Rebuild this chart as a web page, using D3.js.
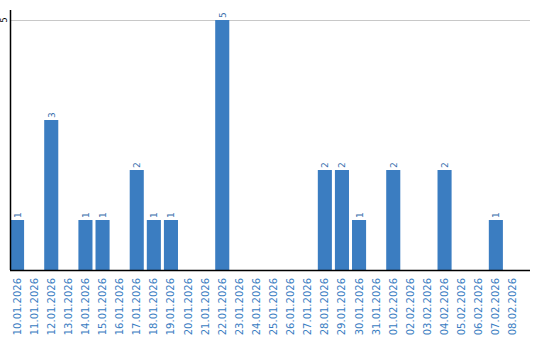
<!DOCTYPE html>
<html>
<head>
<meta charset="utf-8">
<script src="https://cdn.jsdelivr.net/npm/d3@7"></script>
<style>
  body { margin: 0; background: #fff; }
  svg text { font-family: "DejaVu Sans", Verdana, sans-serif; }
</style>
</head>
<body>
<script>
// 数据
const dates = [
    '10.01.2026', '11.01.2026', '12.01.2026', '13.01.2026', '14.01.2026',
    '15.01.2026', '16.01.2026', '17.01.2026', '18.01.2026', '19.01.2026',
    '20.01.2026', '21.01.2026', '22.01.2026', '23.01.2026', '24.01.2026',
    '25.01.2026', '26.01.2026', '27.01.2026', '28.01.2026', '29.01.2026',
    '30.01.2026', '31.01.2026', '01.02.2026', '02.02.2026', '03.02.2026',
    '04.02.2026', '05.02.2026', '06.02.2026', '07.02.2026', '08.02.2026'
];
const counts = [1, 0, 3, 0, 1, 1, 0, 2, 1, 1, 0, 0, 5, 0, 0, 0, 0, 0, 2, 2, 1, 0, 2, 0, 0, 2, 0, 0, 1, 0];
const yTicks = [5];

const width = 540, height = 340;
const mLeft = 10, mRight = 530, mTop = 10, mBottom = 270;
const barColor = '#3b7dc1';

const svg = d3.select('body').append('svg')
    .attr('width', width)
    .attr('height', height);

// 比例尺
const x = d3.scaleBand()
    .domain(dates)
    .range([mLeft, mLeft + 17 * dates.length])
    .paddingInner(3 / 17)
    .paddingOuter(0)
    .align(0);

const y = d3.scaleLinear()
    .domain([0, 5])
    .range([mBottom, 20]);

// 网格线
svg.append('g')
    .selectAll('line')
    .data(yTicks)
    .join('line')
    .attr('x1', mLeft).attr('x2', mRight)
    .attr('y1', d => y(d)).attr('y2', d => y(d))
    .attr('stroke', '#c8c8c8')
    .attr('stroke-width', 1)
    .attr('shape-rendering', 'crispEdges');

// y 轴刻度
svg.append('g')
    .selectAll('text')
    .data(yTicks)
    .join('text')
    .attr('transform', d => `translate(7,${y(d)}) rotate(-90)`)
    .attr('text-anchor', 'middle')
    .attr('font-size', 8)
    .attr('fill', '#000')
    .text(d => d);

// 柱子
const idx = d3.range(dates.length);
svg.append('g')
    .selectAll('rect')
    .data(idx.filter(i => counts[i] > 0))
    .join('rect')
    .attr('x', i => x(dates[i]))
    .attr('y', i => y(counts[i]))
    .attr('width', x.bandwidth())
    .attr('height', i => y(0) - y(counts[i]))
    .attr('fill', barColor);

// 数值标签
svg.append('g')
    .selectAll('text')
    .data(idx.filter(i => counts[i] > 0))
    .join('text')
    .attr('transform', i => `translate(${x(dates[i]) + x.bandwidth() / 2 + 3.5},${y(counts[i]) - 2}) rotate(-90)`)
    .attr('text-anchor', 'start')
    .attr('font-size', 9)
    .attr('fill', '#3a70ad')
    .text(i => counts[i]);

// 坐标轴线
svg.append('line')
    .attr('x1', mLeft + 0.5).attr('x2', mLeft + 0.5)
    .attr('y1', mTop).attr('y2', mBottom)
    .attr('stroke', '#000').attr('stroke-width', 1.5);
svg.append('line')
    .attr('x1', mLeft).attr('x2', mRight)
    .attr('y1', mBottom + 0.5).attr('y2', mBottom + 0.5)
    .attr('stroke', '#000').attr('stroke-width', 1.5);

// x 轴标签
svg.append('g')
    .selectAll('text')
    .data(dates)
    .join('text')
    .attr('transform', d => `translate(${x(d) + x.bandwidth() / 2 + 3.5},278) rotate(-90)`)
    .attr('text-anchor', 'end')
    .attr('font-size', 10)
    .attr('fill', '#3a7dc2')
    .text(d => d);
</script>
</body>
</html>
